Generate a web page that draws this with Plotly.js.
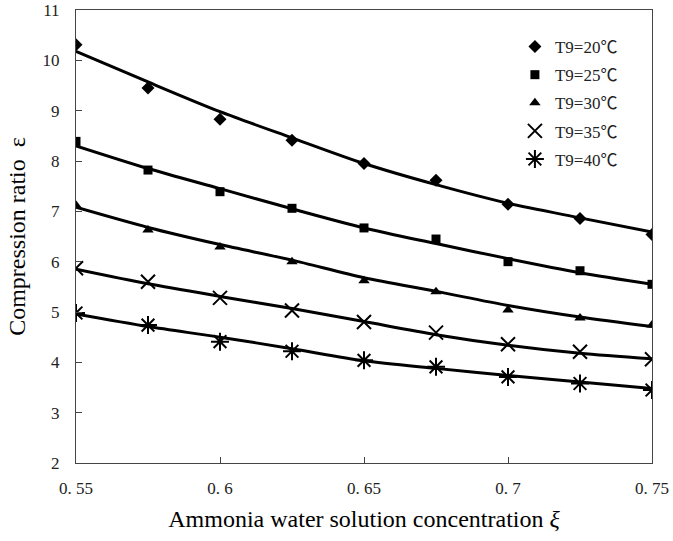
<!DOCTYPE html>
<html>
<head>
<meta charset="utf-8">
<script src="https://cdn.plot.ly/plotly-3.0.1.min.js"></script>
<style>html,body{margin:0;padding:0;background:#fff;}#chart{width:673px;height:541px;}</style>
</head>
<body>
<div id="chart"></div>
<script>
// concentration values (x)
var concentration = [0.55, 0.575, 0.6, 0.625, 0.65, 0.675, 0.7, 0.725, 0.75];

// measured points
var pts20 = [10.31, 9.45, 8.83, 8.41, 7.95, 7.62, 7.14, 6.86, 6.54];
var pts25 = [8.39, 7.82, 7.39, 7.06, 6.67, 6.45, 6.00, 5.82, 5.55];
var pts30 = [7.12, 6.63, 6.29, 6.00, 5.62, 5.40, 5.04, 4.88, 4.74];
var pts35 = [5.87, 5.60, 5.28, 5.03, 4.80, 4.59, 4.36, 4.21, 4.06];
var pts40 = [4.98, 4.74, 4.41, 4.22, 4.04, 3.91, 3.71, 3.58, 3.45];

// fitted curves
var fit20 = [10.18, 9.57, 8.98, 8.46, 7.95, 7.53, 7.16, 6.87, 6.59];
var fit25 = [8.30, 7.85, 7.45, 7.05, 6.67, 6.36, 6.06, 5.78, 5.55];
var fit30 = [7.08, 6.68, 6.34, 6.03, 5.68, 5.41, 5.13, 4.90, 4.71];
var fit35 = [5.85, 5.56, 5.31, 5.07, 4.81, 4.55, 4.34, 4.18, 4.07];
var fit40 = [4.96, 4.71, 4.50, 4.27, 4.03, 3.88, 3.74, 3.61, 3.48];

var seriesNames = ["T9=20℃", "T9=25℃", "T9=30℃", "T9=35℃", "T9=40℃"];
var xTickVals = [0.55, 0.6, 0.65, 0.7, 0.75];
var xTickText = ["0. 55", "0. 6", "0. 65", "0. 7", "0. 75"];
var yTickVals = [2, 3, 4, 5, 6, 7, 8, 9, 10, 11];

var pts = [pts20, pts25, pts30, pts35, pts40];
var fits = [fit20, fit25, fit30, fit35, fit40];
var markerStyles = [
  {symbol: "diamond", size: 10, color: "#000"},
  {symbol: "square", size: 9, color: "#000"},
  {symbol: "triangle-up", size: 10, color: "#000"},
  {symbol: "x-thin-open", size: 14, color: "#000", line: {color: "#000", width: 2}},
  {symbol: "asterisk-open", size: 15, color: "#000", line: {color: "#000", width: 2}}
];

var traces = [];
for (var i = 0; i < fits.length; i++) {
  traces.push({
    x: concentration, y: fits[i], mode: "lines", type: "scatter",
    line: {color: "#000", width: 3, shape: "spline", smoothing: 0.8},
    showlegend: false, hoverinfo: "skip"
  });
}
for (var j = 0; j < pts.length; j++) {
  traces.push({
    x: concentration, y: pts[j], mode: "markers", type: "scatter",
    name: seriesNames[j], legendgroup: "g" + j,
    marker: markerStyles[j]
  });
}

var tickFont = {family: "Liberation Serif, serif", size: 17, color: "#222"};
var layout = {
  width: 673, height: 541,
  margin: {l: 76, r: 21, t: 10, b: 78},
  paper_bgcolor: "#fff", plot_bgcolor: "#fff",
  showlegend: true,
  legend: {
    x: 0.762, y: 0.958, xanchor: "left", yanchor: "top",
    bgcolor: "rgba(255,255,255,0)", borderwidth: 0,
    font: {family: "Liberation Serif, 'Noto Sans CJK SC', serif", size: 17, color: "#222"},
    tracegroupgap: 3
  },
  xaxis: {
    range: [0.55, 0.75], tickvals: xTickVals, ticktext: xTickText,
    ticks: "inside", ticklen: 6, tickcolor: "#444", tickwidth: 1,
    ticklabelstandoff: 10,
    showline: true, linecolor: "#444", linewidth: 1, mirror: true,
    showgrid: false, zeroline: false, tickfont: tickFont,
    title: {text: "Ammonia water solution concentration <i>ξ</i>", font: {family: "Liberation Serif, serif", size: 24, color: "#000"}, standoff: 12}
  },
  yaxis: {
    range: [2, 11], tickvals: yTickVals,
    ticks: "inside", ticklen: 6, tickcolor: "#444", tickwidth: 1,
    ticklabelstandoff: 12,
    showline: true, linecolor: "#444", linewidth: 1, mirror: true,
    showgrid: false, zeroline: false, tickfont: tickFont,
    title: {text: "Compression ratio  ε", font: {family: "Liberation Serif, serif", size: 24, color: "#000"}, standoff: 10}
  }
};

Plotly.newPlot("chart", traces, layout, {staticPlot: true, displayModeBar: false});
</script>
</body>
</html>
